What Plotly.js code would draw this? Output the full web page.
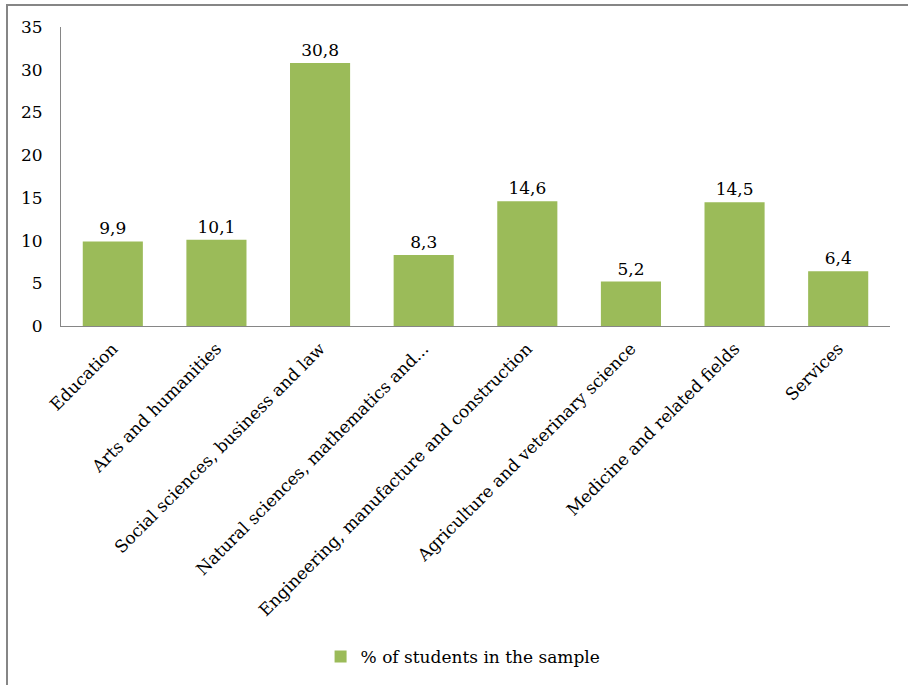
<!DOCTYPE html>
<html>
<head>
<meta charset="utf-8">
<script src="https://cdn.plot.ly/plotly-3.0.1.min.js"></script>
<style>
  html, body { margin: 0; padding: 0; background: #fff; }
  #chart { width: 908px; height: 685px; }
  #frame { position: absolute; left: 6px; top: 4px; right: 0; bottom: 0;
           border-left: 2px solid #868686; border-top: 2px solid #868686; pointer-events: none; }
</style>
</head>
<body>
<div id="chart"></div>
<div id="frame"></div>
<script>
const categories = [
  "Education",
  "Arts and humanities",
  "Social sciences, business and law",
  "Natural sciences, mathematics and...",
  "Engineering, manufacture and construction",
  "Agriculture and veterinary science",
  "Medicine and related fields",
  "Services"
];
const values = [9.9, 10.1, 30.8, 8.3, 14.6, 5.2, 14.5, 6.4];
const seriesName = "% of students in the sample";
const yTicks = [0, 5, 10, 15, 20, 25, 30, 35];

const FONT = "DejaVu Serif, serif";

const trace = {
  type: "bar",
  x: categories,
  y: values,
  name: seriesName,
  marker: { color: "#9BBB59" },
  texttemplate: "%{y:.1f}",
  textposition: "outside",
  textfont: { family: FONT, size: 17, color: "#000" },
  cliponaxis: false,
  showlegend: true,
  hoverinfo: "x+y"
};

const layout = {
  width: 908,
  height: 685,
  margin: { l: 61, r: 18, t: 27, b: 359 },
  paper_bgcolor: "#fff",
  plot_bgcolor: "#fff",
  separators: ",.",
  bargap: 0.42,
  font: { family: FONT, size: 17, color: "#000" },
  showlegend: true,
  legend: {
    orientation: "h",
    xref: "container", yref: "container",
    x: 0.51, xanchor: "center",
    y: 0.041, yanchor: "middle",
    font: { family: FONT, size: 17, color: "#000" }
  },
  xaxis: {
    type: "category",
    tickangle: -45,
    showline: true,
    linecolor: "#868686",
    linewidth: 1,
    ticks: "",
    showgrid: false,
    ticklabelstandoff: 5,
    tickfont: { family: FONT, size: 17, color: "#000" },
    automargin: false
  },
  yaxis: {
    range: [0, 35],
    tickvals: yTicks,
    ticktext: yTicks.map(String),
    showline: true,
    linecolor: "#868686",
    linewidth: 1,
    ticks: "",
    showgrid: false,
    zeroline: false,
    ticklabelstandoff: 14,
    tickfont: { family: FONT, size: 17, color: "#000" },
    automargin: false
  }
};

Plotly.newPlot("chart", [trace], layout, { displayModeBar: false, staticPlot: true });
</script>
</body>
</html>
